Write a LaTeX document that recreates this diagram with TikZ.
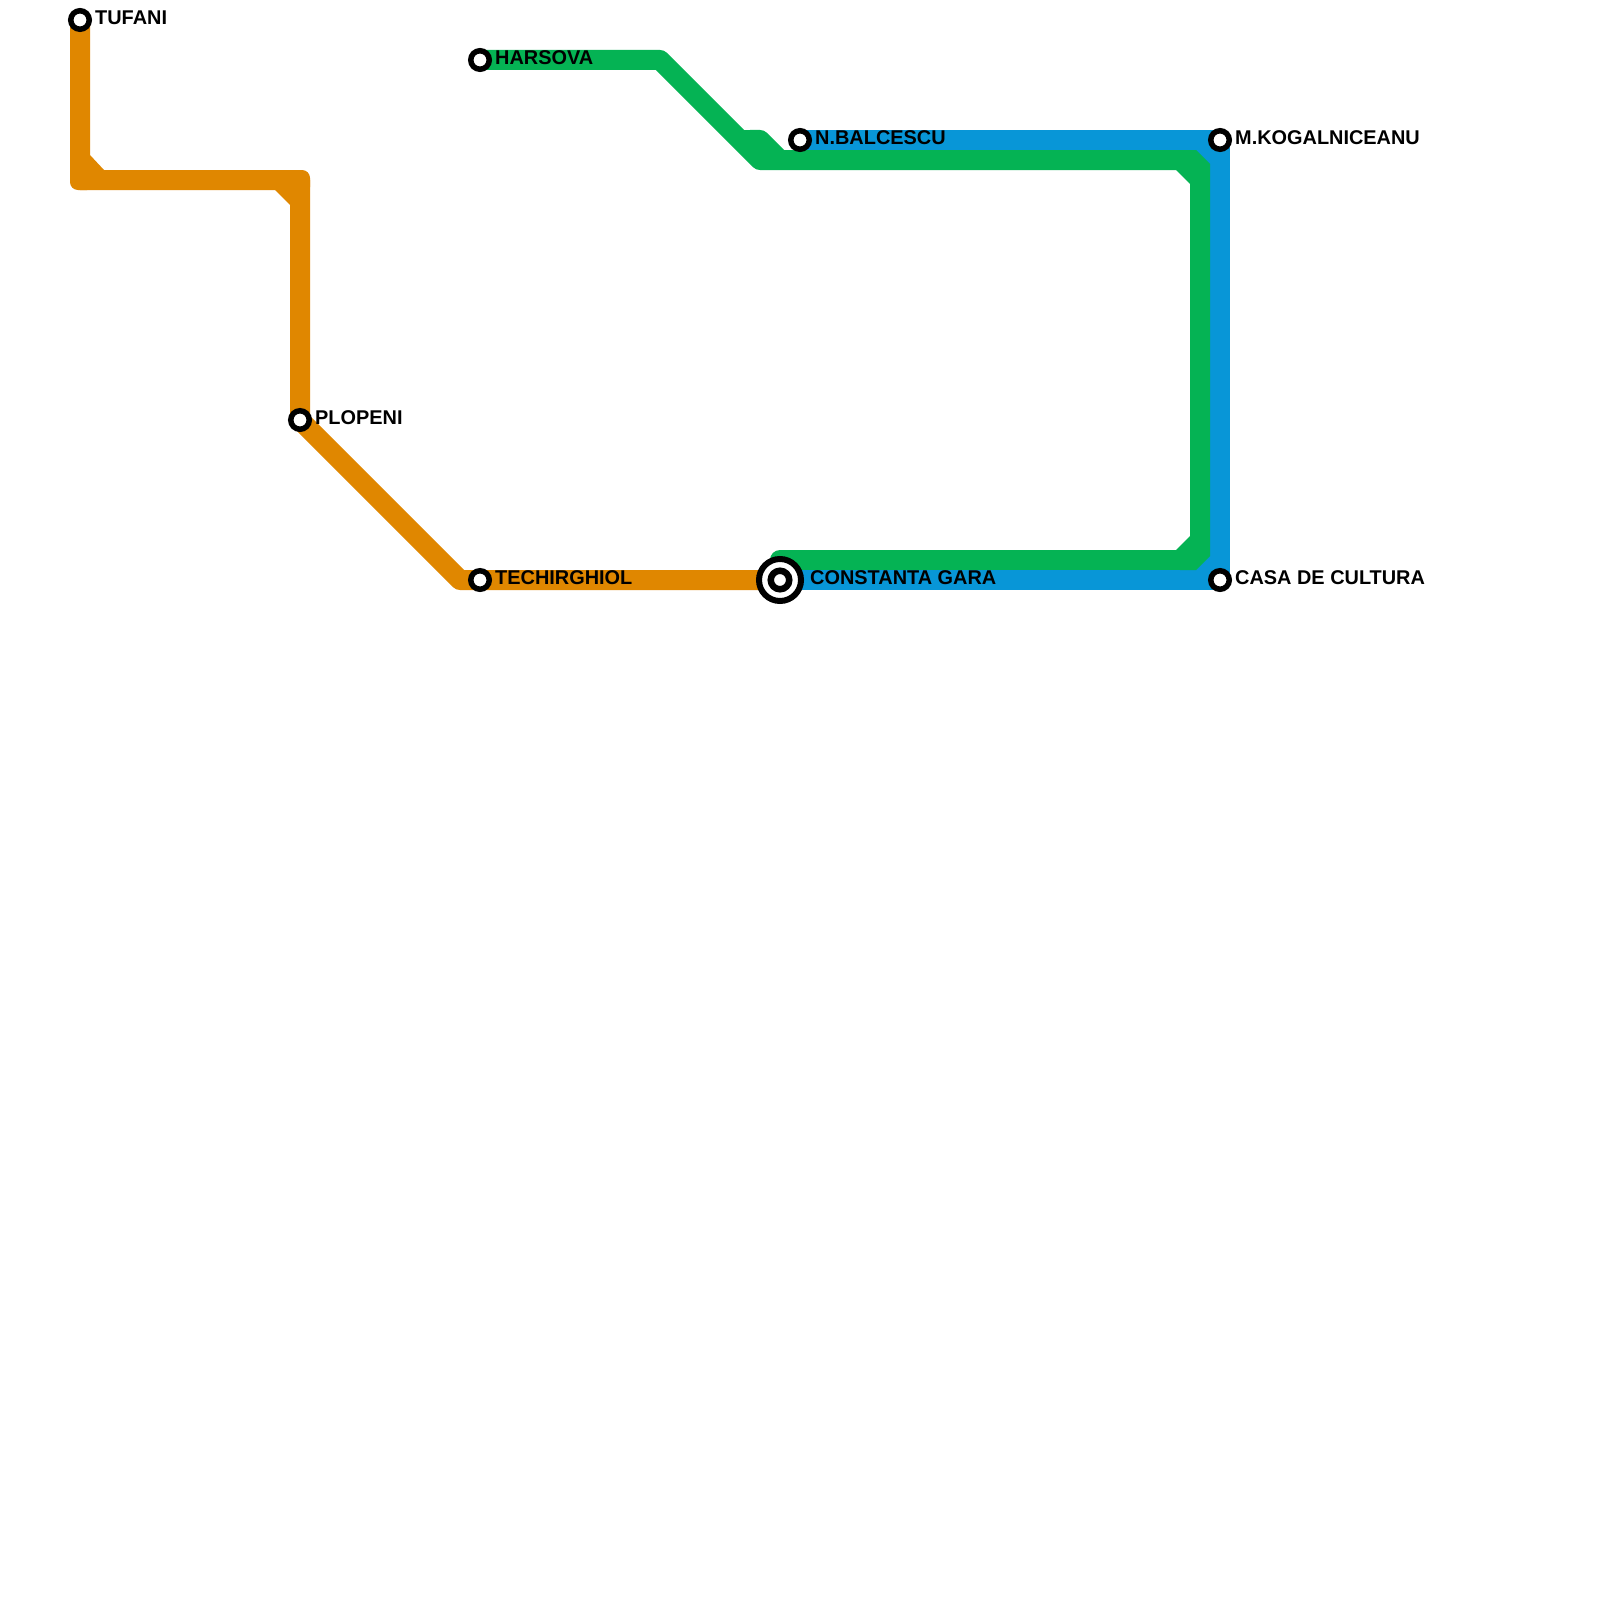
\documentclass[tikz,border=0pt]{standalone}
\usepackage{fontspec}
\setmainfont{Liberation Sans}
\definecolor{lineorange}{HTML}{E08700}
\definecolor{lineblue}{HTML}{0896D7}
\definecolor{linegreen}{HTML}{05B354}
\tikzset{
  metro/.style={line width=20pt,line join=round},
  orangeline/.style={metro,draw=lineorange},
  blueline/.style={metro,draw=lineblue},
  greenline/.style={metro,draw=linegreen},
  stop/.style={circle,draw=black,fill=white,line width=5.5pt,minimum size=18.5pt,inner sep=0pt},
  hubouter/.style={circle,draw=black,fill=white,line width=6pt,minimum size=42pt,inner sep=0pt},
  hubinner/.style={circle,draw=black,fill=white,line width=6.5pt,minimum size=18.5pt,inner sep=0pt},
  stoplabel/.style={anchor=west,inner sep=0pt,font=\fontsize{19.9}{22}\selectfont\bfseries,text=black}
}
\begin{document}
\begin{tikzpicture}[x=1pt,y=-1pt]
\useasboundingbox[fill=white] (0,0) rectangle (1600,1600);
% station positions
\coordinate (tufaniP) at (80,20);
\coordinate (ploP) at (300,420);
\coordinate (techP) at (480,580);
\coordinate (garaP) at (780,580);
\coordinate (harP) at (480,60);
\coordinate (balP) at (800,140);
\coordinate (kogP) at (1220,140);
\coordinate (casaP) at (1220,580);
\coordinate (garaG) at (780,560);
\coordinate (stubA) at (750,140);
% orange line
\draw[orangeline] (tufaniP) -- (80,180) -- (300,180) -- (ploP) -- (460,580) -- (techP) -- (garaP);
\fill[lineorange,rounded corners=8pt] (70,165) rectangle (95,190);
\fill[lineorange] (90,155) -- (104,170) -- (90,170) -- cycle;
\fill[lineorange,rounded corners=8pt] (285,170) rectangle (310,195);
\fill[lineorange] (275,190) -- (290,205) -- (290,190) -- cycle;
% blue line
\draw[blueline] (balP) -- (kogP) -- (casaP) -- (garaP);
\fill[lineblue] (1190,130) rectangle (1215,170);
\fill[lineblue] (1190,550) rectangle (1215,590);
% green line
\draw[greenline] (harP) -- (660,60) -- (760,160) -- (1192,160);
\draw[greenline] (stubA) -- (760,140) -- (780,160);
\fill[linegreen] (744,130) -- (752,130) -- (752,150) -- (744,150) -- cycle;
\draw[greenline,line join=miter] (1180,160) -- (1192,160) -- (1200,168) -- (1200,552) -- (1192,560) -- (1180,560);
\draw[greenline,line cap=round] (1180,560) -- (garaG);
\fill[linegreen] (1176,170) -- (1190,184) -- (1190,170) -- cycle;
\fill[linegreen] (1176,550) -- (1190,536) -- (1190,550) -- cycle;
% stations
\node[stop] (tufani) at (tufaniP) {};
\node[stop] (plopeni) at (ploP) {};
\node[stop] (techirghiol) at (techP) {};
\node[stop] (harsova) at (harP) {};
\node[stop] (balcescu) at (balP) {};
\node[stop] (kogalniceanu) at (kogP) {};
\node[stop] (casa) at (casaP) {};
\node[hubouter] (garaout) at (garaP) {};
\node[hubinner] (gara) at (garaP) {};
% labels
\node[stoplabel] (ltufani) at (95,18) {TUFANI};
\node[stoplabel] (lplopeni) at (315,418) {PLOPENI};
\node[stoplabel] (ltech) at (495,578) {TECHIRGHIOL};
\node[stoplabel] (lhar) at (495,58) {HARSOVA};
\node[stoplabel] (lbal) at (815,138) {N.BALCESCU};
\node[stoplabel] (lkog) at (1235,138) {M.KOGALNICEANU};
\node[stoplabel] (lcasa) at (1235,578) {CASA DE CULTURA};
\node[stoplabel] (lgara) at (810,578) {CONSTANTA GARA};
\end{tikzpicture}
\end{document}
